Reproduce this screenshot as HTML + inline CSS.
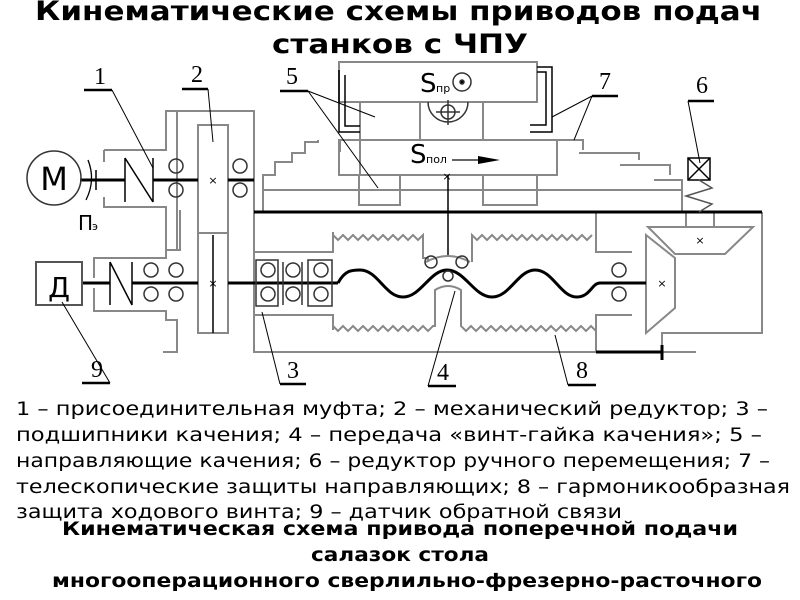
<!DOCTYPE html>
<html><head><meta charset="utf-8"><style>
html,body{margin:0;padding:0;background:#fff;width:800px;height:600px;overflow:hidden}
svg{display:block}
</style></head><body>
<svg width="800" height="600" viewBox="0 0 800 600" xmlns="http://www.w3.org/2000/svg">
<g font-family="'DejaVu Sans','Liberation Sans',sans-serif" font-weight="bold" fill="#000">
<text x="35" y="20" font-size="27" textLength="727" lengthAdjust="spacingAndGlyphs">Кинематические схемы приводов подач</text>
<text x="272" y="53" font-size="27" textLength="256" lengthAdjust="spacingAndGlyphs">станков с ЧПУ</text>
</g>

<g fill="none" stroke="#888" stroke-width="2">
<!-- gearbox housing -->
<path d="M104 150 H166 V111 H254 V320"/>
<path d="M104 150 V162 M104 197 V207 H166 V250 H180 V210 M166 250 V258 H94 V278 M94 288 V311 H166 V320 H177 V352 H163"/>
<path d="M177 111 V250"/>
<rect x="198" y="125" width="30" height="208"/>
<line x1="198" y1="233" x2="228" y2="233"/>
<!-- table/guides -->
<rect x="339" y="62" width="198" height="40"/>
<rect x="339" y="140" width="218" height="35"/>
<path d="M360 102 V175 M420 102 V140 M483 102 V140"/>
<path d="M359 175 V205 H400 V175 M483 175 V205 H537 V175"/>
<path d="M263 190 H682"/>
<path d="M263 212 V175 H275 V162 H292 V153 H305 V142 H318 V140 M340 152 V140"/>
<path d="M557 140 H583 V150 M579 153 H639 V160 M620 165 H670 V175 M654 180 H682 V212"/>
<!-- bellows -->
<path d="M254 252 H333 V232 M254 315 H333 V330 M254 212 V352 H596 V315 H632 M596 212 V252 H632"/>
<path d="M333 235 l5 5 l5 -5 l5 5 l5 -5 l5 5 l5 -5 l5 5 l5 -5 l5 5 l5 -5 l5 5 l5 -5 l5 5 l5 -5 l5 5 l5 -5 l5 5 l5 -5 V258 H428 V262"/>
<path d="M472 262 V235 l5 5 l5 -5 l5 5 l5 -5 l5 5 l5 -5 l5 5 l5 -5 l5 5 l5 -5 l5 5 l5 -5 l5 5 l5 -5 l5 5 l5 -5 l5 5 l5 -5 l5 5 l5 -5 l5 5 l5 -5 l5 5 l5 -5"/>
<path d="M333 326 l5 5 l5 -5 l5 5 l5 -5 l5 5 l5 -5 l5 5 l5 -5 l5 5 l5 -5 l5 5 l5 -5 l5 5 l5 -5 l5 5 l5 -5 l5 5 l5 -5 l5 5 l5 -5 H435 V290 Q448 282 461 290 V326 l5 5 l5 -5 l5 5 l5 -5 l5 5 l5 -5 l5 5 l5 -5 l5 5 l5 -5 l5 5 l5 -5 l5 5 l5 -5 l5 5 l5 -5 l5 5 l5 -5 l5 5 l5 -5 l5 5 l5 -5 l5 5 l5 -5 l5 5 l5 -5 l5 5"/>
<path d="M426 262 Q448 250 470 262" />
<!-- right gearbox -->
<path d="M762 212 V333 H662 V352 H696"/>
<path d="M648 227 H753 L725 254 H675 Z"/>
<path d="M646 235 L675 258 V308 L646 333 Z"/>
<path d="M686 212 V227 M714 212 V227"/>
</g>

<!-- thick shafts & lines -->
<g fill="none" stroke="#000" stroke-width="3">
<line x1="80" y1="180" x2="125" y2="180"/>
<line x1="153" y1="180" x2="198" y2="180"/>
<line x1="228" y1="180" x2="254" y2="180"/>
<line x1="82" y1="283" x2="110" y2="283"/>
<line x1="132" y1="283" x2="198" y2="283"/>
<line x1="228" y1="283" x2="338" y2="283"/>
<line x1="254" y1="212" x2="762" y2="212"/>
<path d="M338 283 C345 270 352 270 360 270 C378 270 385 297 403 297 C421 297 430 270 447 270 C465 270 474 297 492 297 C510 297 518 270 535 270 C553 270 560 297 577 297 C590 297 592 283 600 283 H646"/>
<line x1="596" y1="352" x2="662" y2="352"/>
<line x1="662" y1="345" x2="662" y2="360"/>
</g>
<g fill="none" stroke="#000" stroke-width="1.5">
<!-- couplings -->
<path d="M125 158 V202 M125 158 L153 202 M153 158 V202"/>
<path d="M110 262 V305 M110 262 L132 305 M132 262 V305"/>
<path d="M96 170 V190" />
<line x1="448" y1="175" x2="448" y2="255"/>
<line x1="213" y1="235" x2="213" y2="333"/>
<!-- 6 -->
<rect x="688" y="158" width="22" height="22"/>
<path d="M688 158 L710 180 M710 158 L688 180"/>
<path d="M699 180 L712 188 L686 196 L712 204 L699 212" stroke="#555"/>
<!-- bracket 7 -->
<path d="M537 67 H552 V132 H530 M537 72 H546 V125 H530" stroke="#000"/>
<path d="M339 70 V132 H360 M345 75 V126 H360" stroke="#000"/>
</g>

<!-- motor -->
<circle cx="54" cy="178" r="27" fill="none" stroke="#333" stroke-width="1.5"/>
<text x="54" y="190" font-family="'DejaVu Sans',sans-serif" font-size="32" text-anchor="middle" transform="scale(1,1)">М</text>
<path d="M88 160 Q96 180 86 200" fill="none" stroke="#000" stroke-width="1.3"/>
<text x="78" y="230" font-family="'DejaVu Sans',sans-serif" font-size="20">П</text>
<text x="92" y="230" font-family="'DejaVu Sans',sans-serif" font-size="11">э</text>
<rect x="36" y="262" width="46" height="43" fill="none" stroke="#555" stroke-width="2"/>
<text x="59" y="297" font-family="'DejaVu Sans',sans-serif" font-size="28" text-anchor="middle">Д</text>

<!-- bearings -->
<g fill="none" stroke="#333" stroke-width="1.5">
<circle cx="176" cy="166" r="7"/><circle cx="176" cy="190" r="7"/>
<circle cx="240" cy="166" r="7"/><circle cx="240" cy="190" r="7"/>
<circle cx="151" cy="270" r="7"/><circle cx="151" cy="294" r="7"/>
<circle cx="176" cy="270" r="7"/><circle cx="176" cy="294" r="7"/>
<circle cx="268" cy="270" r="7"/><circle cx="268" cy="294" r="7"/>
<circle cx="293" cy="270" r="7"/><circle cx="293" cy="294" r="7"/>
<circle cx="321" cy="270" r="7"/><circle cx="321" cy="294" r="7"/>
<circle cx="619" cy="270" r="7"/><circle cx="619" cy="294" r="7"/>
<circle cx="431" cy="262" r="6"/><circle cx="462" cy="262" r="6"/><circle cx="448" cy="276" r="5"/>
<rect x="256" y="260" width="22" height="46"/><rect x="308" y="260" width="24" height="46"/>
<line x1="283" y1="262" x2="283" y2="305"/><line x1="302" y1="262" x2="302" y2="305"/>
<circle cx="462" cy="82" r="9"/><circle cx="462" cy="82" r="2" fill="#000"/>
<path d="M428 102 A20 20 0 0 0 468 102"/><circle cx="448" cy="112" r="7"/>
<path d="M448 100 V125 M436 112 H460"/>
</g>
<g font-family="'DejaVu Sans',sans-serif" font-size="11" text-anchor="middle"><text x="213" y="184">×</text><text x="213" y="287">×</text><text x="447" y="180">×</text><text x="700" y="244">×</text><text x="662" y="287">×</text></g>
<text x="420" y="92" font-family="'DejaVu Sans',sans-serif" font-size="26">S</text><text x="436" y="92" font-family="'DejaVu Sans',sans-serif" font-size="11">пр</text>
<text x="410" y="163" font-family="'DejaVu Sans',sans-serif" font-size="26">S</text><text x="426" y="163" font-family="'DejaVu Sans',sans-serif" font-size="11">пол</text>
<path d="M452 160 H480" stroke="#666" stroke-width="2"/><path d="M478 156 L500 160 L478 164 Z" fill="#000"/>

<!-- leaders & labels -->
<g fill="none" stroke="#000" stroke-width="1">
<path d="M112 90 L153 168 M208 89 L213 142 M308 91 L375 117 M308 91 L378 188 M592 96 L552 117 M592 96 L574 140 M688 101 L700 163 M110 383 L62 302 M280 384 L262 312 M428 386 L455 291 M568 385 L555 335"/>
</g>
<g stroke="#000" stroke-width="2.5">
<path d="M84 90 H112 M182 89 H208 M280 91 H308 M592 96 H618 M688 101 H714 M82 383 H110 M280 384 H306 M428 386 H456 M568 385 H596"/>
</g>
<g font-family="'Liberation Serif',serif" font-size="24" text-anchor="middle">
<text x="100" y="84">1</text><text x="197" y="82">2</text><text x="292" y="84">5</text><text x="605" y="89">7</text><text x="702" y="93">6</text>
<text x="97" y="377">9</text><text x="293" y="378">3</text><text x="443" y="380">4</text><text x="582" y="378">8</text>
</g>

<g font-family="'DejaVu Sans','Liberation Sans',sans-serif" font-size="19" fill="#000">
<text x="16" y="415" textLength="752" lengthAdjust="spacingAndGlyphs">1 – присоединительная муфта; 2 – механический редуктор; 3 –</text>
<text x="16" y="441" textLength="746" lengthAdjust="spacingAndGlyphs">подшипники качения; 4 – передача «винт-гайка качения»; 5 –</text>
<text x="16" y="467" textLength="754" lengthAdjust="spacingAndGlyphs">направляющие качения; 6 – редуктор ручного перемещения; 7 –</text>
<text x="16" y="493" textLength="774" lengthAdjust="spacingAndGlyphs">телескопические защиты направляющих; 8 – гармоникообразная</text>
<text x="16" y="518" textLength="606" lengthAdjust="spacingAndGlyphs">защита ходового винта; 9 – датчик обратной связи</text>
</g>
<g font-family="'DejaVu Sans','Liberation Sans',sans-serif" font-size="19" font-weight="bold" fill="#000">
<text x="62" y="535" textLength="676" lengthAdjust="spacingAndGlyphs">Кинематическая схема привода поперечной подачи</text>
<text x="311" y="561" textLength="178" lengthAdjust="spacingAndGlyphs">салазок стола</text>
<text x="52" y="587" textLength="710" lengthAdjust="spacingAndGlyphs">многооперационного сверлильно-фрезерно-расточного</text>
</g>
</svg>
</body></html>
